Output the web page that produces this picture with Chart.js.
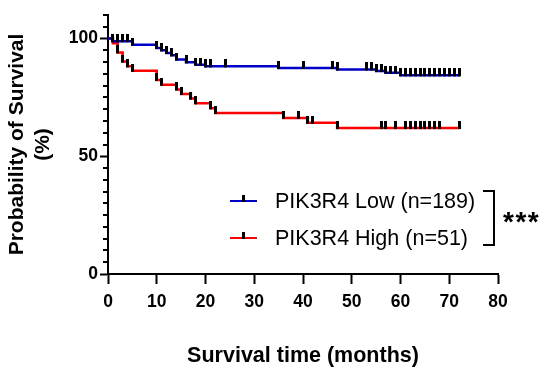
<!DOCTYPE html>
<html>
<head>
<meta charset="utf-8">
<script src="https://cdn.jsdelivr.net/npm/chart.js@4.4.1/dist/chart.umd.min.js"></script>
<style>
  html, body { margin: 0; padding: 0; background: #fff; }
  #wrap { position: relative; width: 546px; height: 370px; font-family: "Liberation Sans", Arial, sans-serif; }
  .key { position: absolute; left: 230px; height: 24px; display: flex; align-items: center; font-size: 21.5px; color: #000; white-space: nowrap; }
  .key .swatch { position: relative; width: 27px; height: 2.5px; margin-right: 18px; }
  .key .swatch::after { content: ""; position: absolute; left: 12px; top: -5px; width: 3px; height: 7px; background: #000; }
  .bracket { position: absolute; left: 483px; top: 190px; width: 10px; height: 52px; border: 2px solid #000; border-left: none; }
  .stars { position: absolute; left: 503px; top: 206px; font-size: 28px; font-weight: bold; letter-spacing: 1.5px; }
</style>
</head>
<body>
<div id="wrap">
  <canvas id="km" width="546" height="370"></canvas>
  <div class="key" style="top:189px"><span class="swatch" style="background:#0000c8"></span>PIK3R4 Low (n=189)</div>
  <div class="key" style="top:226px"><span class="swatch" style="background:#ff0000"></span>PIK3R4 High (n=51)</div>
  <div class="bracket"></div>
  <div class="stars">***</div>
</div>
<script>
// step points (month, % surviving after the drop)
const lowTimes = [0, 1, 5, 10, 11, 12, 13, 14, 16, 18, 20, 35, 47, 55, 57, 60, 72.2];
const lowSurvival = [100, 98.9, 97.4, 96.0, 95.0, 93.9, 92.9, 91.1, 89.9, 88.9, 88.2, 87.5, 86.9, 86.2, 85.5, 84.4, 84.4];
const lowCensored = [1, 2, 3, 4, 5, 10, 11, 12, 13, 14, 16, 18, 19, 20, 21, 24, 35, 40, 46, 47,
  53, 54, 55, 56, 57, 58, 59, 60, 61, 62, 63, 64, 65, 66, 67, 68, 69, 70, 71, 72.2];

const highTimes = [0, 1, 2, 3, 4, 5, 10, 11, 14, 15, 17, 18, 21, 22, 36, 41, 47, 72.1];
const highSurvival = [100, 98.0, 94.1, 90.2, 88.2, 86.3, 82.4, 80.4, 78.4, 76.5, 74.5, 72.5, 70.4, 68.4, 66.3, 64.2, 62.0, 62.0];
const highCensored = [2, 3, 4, 5, 10, 11, 14, 15, 17, 18, 21, 22, 36, 39, 41, 42, 47,
  56, 57, 59, 61, 62, 63, 64, 65, 66, 67, 68, 72.1];

const yLabels = [0, 50, 100];

const BLUE = "#0000c8";
const RED = "#ff0000";
const FONT = "'Liberation Sans', Arial, sans-serif";

function levelAt(times, surv, t) {
  let s = surv[0];
  for (let i = 0; i < times.length; i++) if (times[i] <= t) s = surv[i];
  return s;
}

// little vertical censor tick sitting on top of the line
function censorMark() {
  const c = document.createElement("canvas");
  c.width = 3;
  c.height = 14;
  const g = c.getContext("2d");
  g.fillStyle = "#000";
  g.fillRect(0, 0, 3, 8);
  return c;
}
const mark = censorMark();

const minorTicks = {
  id: "minorTicks",
  afterDraw(chart) {
    const y = chart.scales.y;
    const left = chart.chartArea.left;
    const ctx = chart.ctx;
    ctx.save();
    ctx.strokeStyle = "#000";
    ctx.lineWidth = 2;
    for (const t of y.ticks) {
      if (yLabels.includes(t.value)) continue;
      const py = Math.round(y.getPixelForValue(t.value));
      ctx.beginPath();
      ctx.moveTo(left - 5, py);
      ctx.lineTo(left, py);
      ctx.stroke();
    }
    ctx.restore();
  }
};

new Chart(document.getElementById("km"), {
  type: "line",
  data: {
    datasets: [
      {
        label: "Low censored",
        data: lowCensored.map((t) => ({ x: t, y: levelAt(lowTimes, lowSurvival, t) })),
        showLine: false,
        pointStyle: mark,
        pointRadius: 3,
        order: 0
      },
      {
        label: "High censored",
        data: highCensored.map((t) => ({ x: t, y: levelAt(highTimes, highSurvival, t) })),
        showLine: false,
        pointStyle: mark,
        pointRadius: 3,
        order: 0
      },
      {
        label: "PIK3R4 Low (n=189)",
        data: lowTimes.map((t, i) => ({ x: t, y: lowSurvival[i] })),
        borderColor: BLUE,
        borderWidth: 2.5,
        stepped: "before",
        pointRadius: 0,
        order: 1
      },
      {
        label: "PIK3R4 High (n=51)",
        data: highTimes.map((t, i) => ({ x: t, y: highSurvival[i] })),
        borderColor: RED,
        borderWidth: 2.5,
        stepped: "before",
        pointRadius: 0,
        order: 2
      }
    ]
  },
  options: {
    responsive: false,
    animation: false,
    layout: { padding: { top: 15, right: 48, left: 0, bottom: 0 } },
    plugins: { legend: { display: false }, tooltip: { enabled: false } },
    scales: {
      x: {
        type: "linear",
        min: 0,
        max: 80,
        afterFit: (s) => { s.height = 96; },
        border: { color: "#000", width: 2 },
        grid: { drawOnChartArea: false, tickLength: 10, tickWidth: 2, tickColor: "#000" },
        ticks: { stepSize: 10, color: "#000", padding: 8, font: { family: FONT, size: 17.5, weight: "bold" } },
        title: {
          display: true,
          text: "Survival time (months)",
          color: "#000",
          padding: { top: 0, bottom: 1 },
          font: { family: FONT, size: 21.5, weight: "bold" }
        }
      },
      y: {
        min: 0,
        max: 110,
        afterFit: (s) => { s.width = 108; },
        border: { color: "#000", width: 2 },
        grid: {
          drawOnChartArea: false,
          tickLength: 8,
          tickWidth: 2,
          tickColor: (c) => (yLabels.includes(c.tick.value) ? "#000" : "rgba(0,0,0,0)")
        },
        ticks: {
          stepSize: 5,
          color: "#000",
          padding: 2,
          autoSkip: false,
          callback: (v) => (yLabels.includes(v) ? v : ""),
          font: { family: FONT, size: 17.5, weight: "bold" }
        },
        title: {
          display: true,
          text: ["Probability of Survival", "(%)"],
          color: "#000",
          padding: { top: 5, bottom: 0 },
          font: { family: FONT, size: 21, weight: "bold", lineHeight: 1.2 }
        }
      }
    }
  },
  plugins: [minorTicks]
});
</script>
</body>
</html>
